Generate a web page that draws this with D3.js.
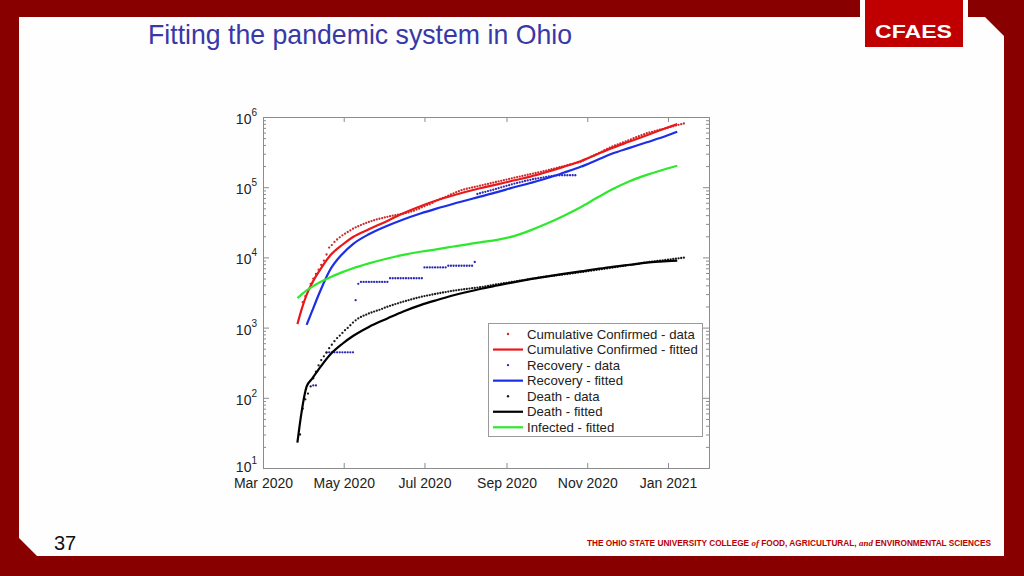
<!DOCTYPE html>
<html>
<head>
<meta charset="utf-8">
<script src="https://cdn.jsdelivr.net/npm/d3@7"></script>
<style>
  body { margin: 0; background: #880000; }
  svg { display: block; }
</style>
</head>
<body>
<script>
// ---- data ----
const day0 = new Date(Date.UTC(2020, 2, 1));
const stepDays = 2;

// fitted curves, sampled at these day offsets from Mar 1 2020
const fitDays = [26, 29, 33, 37, 43, 50, 60, 68, 80, 94, 106, 119, 131, 144, 164, 177, 189, 202, 215, 227, 240, 252, 264, 277, 290, 300, 313];
const confirmedFit = [1122, 1778, 2951, 4266, 6607, 10233, 15136, 19498, 25119, 33113, 42658, 53703, 64565, 76736, 96605, 109648, 124451, 141254, 165959, 194984, 234423, 291743, 363078, 446684, 549541, 645654, 794328];
const recoveryFit = [null, null, 1096, 1698, 3236, 6310, 11220, 15488, 21380, 28184, 34674, 42170, 49545, 58210, 73282, 85114, 98855, 114815, 134896, 160325, 194984, 242661, 301995, 363078, 436516, 501187, 616595];
const deathFit = [23, 60, 145, 186, 269, 398, 589, 759, 1023, 1349, 1698, 2089, 2455, 2884, 3548, 3981, 4416, 4898, 5370, 5821, 6310, 6839, 7328, 7852, 8414, 8710, 9016];
const infectedFit = [2630, 2951, 3388, 3802, 4416, 5129, 6166, 6998, 8222, 9661, 10839, 12023, 13032, 14289, 16406, 17783, 19953, 24266, 30549, 38905, 51880, 69984, 93325, 121619, 149624, 171791, 201837];

// daily reports, every second day
const confirmedStart = 30;
const confirmedData = [
  2300, 2800, 3400, 4200, 5000, 5800, 6700, 7800, 9000, 11000,
  13800, 15000, 16600, 18000, 19300, 20600, 21800, 23000, 24200, 25600,
  26700, 27800, 28900, 30000, 31000, 32000, 32900, 33800, 34700, 35500,
  36300, 37100, 37900, 38600, 39300, 40000, 40700, 41300, 42000, 42900,
  43700, 45000, 46100, 48000, 49500, 51800, 53500, 55600, 57100, 59800,
  62900, 65600, 68000, 70600, 73000, 75500, 78700, 81500, 85000, 87800,
  90600, 92900, 95000, 97100, 99100, 101000, 103000,
  105000, 107100, 109300, 111500, 113800, 116100, 118500, 120900, 123400, 125900,
  128500, 131100, 133800, 136500, 139200, 141900, 144700, 147500, 150400, 153300,
  156300, 159400, 162500, 165700, 169000, 172300, 176200, 180100, 184200, 188300,
  192500, 196800, 201200, 205800, 210400, 215100, 220000, 225000, 230000, 240000,
  250300, 261100, 272300, 284000, 296200, 308900, 322200, 336100, 350500, 365500,
  381000, 394000, 407400, 421200, 435500, 450300, 465600, 481400, 497800, 514700,
  532200, 550300, 569000, 588000, 601500, 615300, 629500, 644000, 658800, 674000,
  689500, 705300, 721500, 738100, 755100, 772500, 790300, 808500
];

const recoveryStart = 38;
const recoveryData = [
  150, 150, null, null, null,
  445, 445, 445, 445, 445, 445, 445, 445, 445, 445, 445,
  2460, 4200,
  4470, 4470, 4470, 4470, 4470, 4470, 4470, 4470, 4470, 4470, 4470,
  5050, 5050, 5050, 5050, 5050, 5050, 5050, 5050, 5050, 5050, 5050, 5050, 5050,
  7200, 7200, 7200, 7200, 7200, 7200, 7200, 7200, 7200,
  7600, 7600, 7600, 7600, 7600, 7600, 7600, 7600, 7600, 7600,
  8600,
  80000, 82000, 84000, 86000, 88000, 90000, 92000, 94500, 97000, 99500,
  102000, 104500, 107000, 110000, 112500, 115000, 117500, 120000, 122500, 125000,
  127500, 130000, 132000, 134000, 136000, 138000, 140000, 142000, 144000, 146000,
  148000, 148000, 148000, 148000, 148000, 148000, 148000, 148000
];

const deathStart = 28;
const deathData = [
  30, 70, 95, 115, 145, 190, 235, 290, 345, 390,
  440, 510, 570, 640, 710, 770, 840, 920, 990, 1080,
  1180, 1270, 1350, 1420, 1480, 1530, 1590, 1640, 1690, 1740,
  1790, 1850, 1920, 1980, 2040, 2100, 2160, 2220, 2280, 2340,
  2400, 2460, 2520, 2580, 2640, 2700, 2760, 2810, 2860, 2910,
  2960, 3010, 3060, 3110, 3160, 3210, 3260, 3310, 3360, 3400,
  3440, 3480, 3520, 3560, 3600, 3640, 3680, 3720, 3760,
  3810, 3870, 3930, 3990, 4050, 4110, 4170, 4230, 4290, 4350,
  4410, 4470, 4530, 4590, 4650, 4720, 4790, 4860, 4930, 5000,
  5060, 5130, 5200, 5260, 5320, 5380, 5440, 5500, 5560, 5620,
  5680, 5740, 5800, 5870, 5940, 6010, 6080, 6150, 6230, 6310,
  6390, 6470, 6550, 6630, 6710, 6790, 6880, 6970, 7060, 7150,
  7250, 7350, 7450, 7550, 7650, 7750, 7850, 7950, 8050, 8150,
  8270, 8390, 8500, 8600, 8700, 8800, 8900, 9000, 9100, 9200,
  9300, 9400, 9500, 9600, 9700, 9800, 9900
];

const monthTicks = ["2020-03-01", "2020-05-01", "2020-07-01", "2020-09-01", "2020-11-01", "2021-01-01"];
const legendLabels = ["Cumulative Confirmed - data", "Cumulative Confirmed - fitted", "Recovery - data", "Recovery - fitted", "Death - data", "Death - fitted", "Infected - fitted"];

// ---- page ----
const W = 1024, H = 576;
const svg = d3.select("body").append("svg").attr("width", W).attr("height", H);

// slide frame
svg.append("rect").attr("width", W).attr("height", H).attr("fill", "#880000");
svg.append("path")
    .attr("d", "M19,17 L985,17 L1004,36 L1004,556 L37,556 L19,538 Z")
    .attr("fill", "#fefefe");
svg.append("rect").attr("x", 860).attr("y", 0).attr("width", 108).attr("height", 17).attr("fill", "#fefefe");
svg.append("rect").attr("x", 865).attr("y", 0).attr("width", 98).attr("height", 47).attr("fill", "#c00000");
svg.append("text")
    .attr("x", 875).attr("y", 38)
    .attr("textLength", 77).attr("lengthAdjust", "spacingAndGlyphs")
    .style("font", "bold 19px 'Liberation Sans', Arial, sans-serif")
    .attr("fill", "#fff")
    .text("CFAES");

svg.append("text")
    .attr("x", 148).attr("y", 44)
    .attr("textLength", 424).attr("lengthAdjust", "spacingAndGlyphs")
    .style("font", "28px 'Liberation Sans Narrow', 'Liberation Sans', sans-serif")
    .attr("fill", "#3838a8")
    .text("Fitting the pandemic system in Ohio");

svg.append("text")
    .attr("x", 54).attr("y", 550)
    .style("font", "20px 'Liberation Sans Narrow', 'Liberation Sans', sans-serif")
    .attr("fill", "#111")
    .text("37");

// footer line, sized so it runs from x=587 to x=992
var foot = svg.append("text")
    .attr("x", 587).attr("y", 546)
    .style("font-family", "'Liberation Sans', Arial, sans-serif")
    .style("font-weight", "bold")
    .style("font-size", "8.5px")
    .attr("fill", "#bb0000");
foot.append("tspan").text("THE OHIO STATE UNIVERSITY COLLEGE ");
foot.append("tspan").style("font-family", "'Liberation Serif', serif").style("font-style", "italic").style("font-size", "1.08em").text("of");
foot.append("tspan").text(" FOOD, AGRICULTURAL, ");
foot.append("tspan").style("font-family", "'Liberation Serif', serif").style("font-style", "italic").style("font-size", "1.08em").text("and");
foot.append("tspan").text(" ENVIRONMENTAL SCIENCES");
let footW = foot.node().getComputedTextLength();
foot.style("font-size", (8.5 * 405 / footW) + "px");

// ---- chart ----
const x = d3.scaleUtc()
    .domain([day0, new Date(Date.UTC(2021, 1, 1))])
    .range([263, 709]);
const y = d3.scaleLog().domain([10, 1e6]).range([468, 117]);

const dayDate = d => d3.utcDay.offset(day0, d);
const axisColor = "#8c8c8c";
const font = "14px 'Liberation Sans', Helvetica, Arial, sans-serif";

const chart = svg.append("g");
chart.append("rect").attr("x", 263).attr("y", 117).attr("width", 446).attr("height", 351).attr("fill", "#fff");

const ticks = monthTicks.map(s => new Date(s + "T00:00:00Z"));
const majors = [10, 100, 1000, 10000, 100000, 1000000];
const minors = [];
majors.slice(0, -1).forEach(m => { for (let k = 2; k < 10; k++) minors.push(m * k); });

function styleAxis(sel) {
    sel.select(".domain").attr("stroke", axisColor);
    sel.selectAll(".tick line").attr("stroke", axisColor);
}

chart.append("g").attr("transform", "translate(0,468)")
    .call(d3.axisBottom(x).tickValues(ticks).tickFormat(d3.utcFormat("%b %Y"))
        .tickSizeInner(-5).tickSizeOuter(0).tickPadding(10))
    .call(styleAxis)
    .call(a => a.selectAll("text").style("font", font).attr("fill", "#222"));
chart.append("g").attr("transform", "translate(0,117)")
    .call(d3.axisTop(x).tickValues(ticks).tickFormat("").tickSizeInner(-5).tickSizeOuter(0))
    .call(styleAxis);

chart.append("g").attr("transform", "translate(263,0)")
    .call(d3.axisLeft(y).tickValues(majors).tickFormat("").tickSizeInner(-6).tickSizeOuter(0))
    .call(styleAxis);
chart.append("g").attr("transform", "translate(263,0)")
    .call(d3.axisLeft(y).tickValues(minors).tickFormat("").tickSizeInner(-3).tickSizeOuter(0))
    .call(styleAxis);
chart.append("g").attr("transform", "translate(709,0)")
    .call(d3.axisRight(y).tickValues(majors).tickFormat("").tickSizeInner(-6).tickSizeOuter(0))
    .call(styleAxis);
chart.append("g").attr("transform", "translate(709,0)")
    .call(d3.axisRight(y).tickValues(minors).tickFormat("").tickSizeInner(-3).tickSizeOuter(0))
    .call(styleAxis);

// y tick labels as 10^n (the lowest one sits just above the date labels)
majors.forEach(v => {
    let t = chart.append("text")
        .attr("x", 257).attr("y", y(v) + (v == 10 ? 4 : 7))
        .attr("text-anchor", "end")
        .style("font", font).attr("fill", "#222");
    t.append("tspan").text("10");
    t.append("tspan").attr("dy", -8).style("font-size", "10px").text(Math.round(Math.log10(v)));
});

// ---- series ----
const fitPoints = vals => fitDays.map((d, i) => ({ date: dayDate(d), v: vals[i] }));
const dataPoints = (start, vals) => vals.map((v, i) => ({ date: dayDate(start + i * stepDays), v: v }))
    .filter(p => p.v != null);

const line = d3.line()
    .defined(d => d.v != null)
    .x(d => x(d.date))
    .y(d => y(d.v))
    .curve(d3.curveMonotoneX);

function drawDots(points, color) {
    chart.append("g").selectAll("circle")
        .data(points)
        .join("circle")
        .attr("cx", d => x(d.date))
        .attr("cy", d => y(d.v))
        .attr("r", 1.15)
        .attr("fill", color);
}
function drawLine(points, color) {
    chart.append("path")
        .datum(points)
        .attr("fill", "none")
        .attr("stroke", color)
        .attr("stroke-width", 2.2)
        .attr("d", line);
}

const cRed = "#e8191b", cBlue = "#1c2ee6", cGreen = "#2ee82e", cBlack = "#000";
const dRed = "#cc2a2a", dBlue = "#2a2ab4", dBlack = "#1a1a1a";

drawDots(dataPoints(confirmedStart, confirmedData), dRed);
drawLine(fitPoints(confirmedFit), cRed);
drawDots(dataPoints(recoveryStart, recoveryData), dBlue);
drawLine(fitPoints(recoveryFit), cBlue);
drawDots(dataPoints(deathStart, deathData), dBlack);
drawLine(fitPoints(deathFit), cBlack);
drawLine(fitPoints(infectedFit), cGreen);

// ---- legend ----
const legendKind = ["dot", "line", "dot", "line", "dot", "line", "line"];
const legendColor = [dRed, cRed, dBlue, cBlue, dBlack, cBlack, cGreen];
const lg = chart.append("g");
lg.append("rect").attr("x", 488.5).attr("y", 323.5).attr("width", 214).attr("height", 113)
    .attr("fill", "#fff").attr("stroke", "#9a9a9a");
legendLabels.forEach((lab, i) => {
    let ry = 334 + i * 15.55;
    if (legendKind[i] == "dot")
        lg.append("circle").attr("cx", 508).attr("cy", ry).attr("r", 1.2).attr("fill", legendColor[i]);
    else
        lg.append("line").attr("x1", 493).attr("x2", 523).attr("y1", ry).attr("y2", ry)
            .attr("stroke", legendColor[i]).attr("stroke-width", 2.2);
    lg.append("text").attr("x", 527).attr("y", ry + 4.6)
        .style("font", "13.2px 'Liberation Sans', Helvetica, Arial, sans-serif")
        .attr("fill", "#222")
        .text(lab);
});
</script>
</body>
</html>
